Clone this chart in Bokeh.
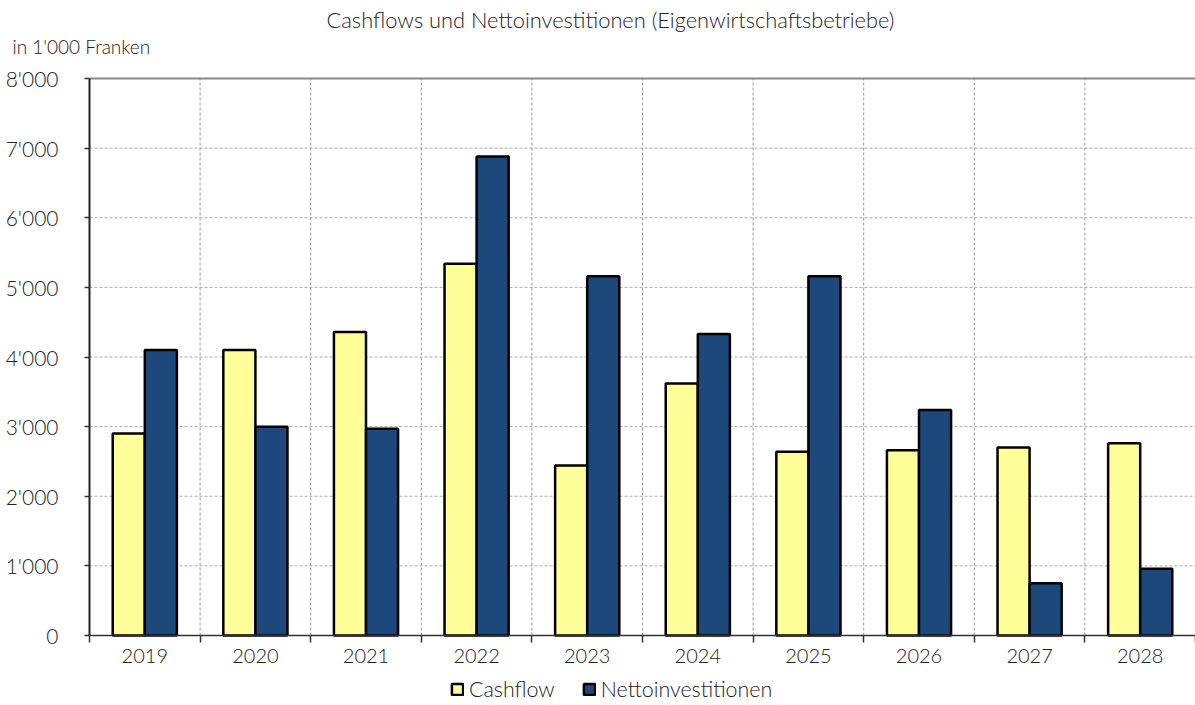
from bokeh.plotting import figure
from bokeh.models import (FixedTicker, Legend, LegendItem, ColumnDataSource, Range1d, Label)
from bokeh.transform import dodge
from bokeh.embed import file_html
from bokeh.resources import INLINE

years = ["2019", "2020", "2021", "2022", "2023", "2024", "2025", "2026", "2027", "2028"]
cashflow = [2900, 4100, 4360, 5340, 2440, 3620, 2640, 2660, 2700, 2760]
netto = [4100, 3000, 2970, 6880, 5160, 4330, 5160, 3240, 750, 960]
y_ticks = [0, 1000, 2000, 3000, 4000, 5000, 6000, 7000, 8000]
y_tick_labels = ["0", "1'000", "2'000", "3'000", "4'000", "5'000", "6'000", "7'000", "8'000"]
title_text = "Cashflows und Nettoinvestitionen (Eigenwirtschaftsbetriebe)"
unit_text = "in 1'000 Franken"

FONT = "'Lato Light', Lato"
W, H = 1195, 705
# layout of the plotting area inside the canvas (pixels)
AX_LEFT, AX_TOP, AX_BOTTOM = 89, 78, 635

pos = list(range(1, len(years) + 1))
bounds = [p_ - 0.5 for p_ in pos] + [pos[-1] + 0.5]

px_per_x = (W - AX_LEFT) / (bounds[-1] - bounds[0])
px_per_y = (AX_BOTTOM - AX_TOP) / (y_ticks[-1] - y_ticks[0])
x_start = bounds[0] - AX_LEFT / px_per_x
y_end = y_ticks[-1] + AX_TOP / px_per_y
y_start = y_ticks[0] - (H - AX_BOTTOM) / px_per_y

src = ColumnDataSource(dict(pos=pos, cashflow=cashflow, netto=netto))

p = figure(width=W, height=H, output_backend="svg", toolbar_location=None,
           x_range=Range1d(x_start, bounds[-1]), y_range=Range1d(y_start, y_end),
           min_border_left=0, min_border_right=0, min_border_top=0, min_border_bottom=0)
p.outline_line_color = None
p.background_fill_color = "white"
p.xgrid.visible = False
p.ygrid.visible = False

# grid lines (restricted to the value area)
hg = y_ticks[1:-1]
p.segment(x0=[bounds[0]] * len(hg), x1=[bounds[-1]] * len(hg), y0=hg, y1=hg,
          line_color="#AAAAAA", line_width=1, line_dash="3 2")
vg = bounds[1:-1]
p.segment(x0=vg, x1=vg, y0=[y_ticks[0]] * len(vg), y1=[y_ticks[-1]] * len(vg),
          line_color="#999999", line_width=1, line_dash="3 2")
p.segment(x0=[bounds[0]], x1=[bounds[-1]], y0=[y_ticks[-1]], y1=[y_ticks[-1]],
          line_color="#888888", line_width=2)

r1 = p.vbar(x=dodge("pos", -0.145, range=p.x_range), top="cashflow", width=0.29, source=src,
            fill_color="#FFFF99", line_color="black", line_width=2.5)
r2 = p.vbar(x=dodge("pos", 0.145, range=p.x_range), top="netto", width=0.29, source=src,
            fill_color="#1C487C", line_color="black", line_width=2.5)

# axes drawn at fixed positions
xa = p.xaxis[0]
xa.fixed_location = y_ticks[0]
xa.bounds = (bounds[0], bounds[-1])
xa.ticker = FixedTicker(ticks=pos, minor_ticks=bounds)
xa.major_label_overrides = {k: v for k, v in zip(pos, years)}
xa.major_tick_out = 0
xa.major_tick_in = 0
xa.minor_tick_out = 7
xa.minor_tick_in = 0
xa.minor_tick_line_color = "#333333"
xa.minor_tick_line_width = 1.5
xa.axis_line_color = "#333333"
xa.axis_line_width = 1.5
xa.major_label_text_font = FONT
xa.major_label_text_font_size = "20px"
xa.major_label_text_color = "#222222"
xa.major_label_standoff = 6

ya = p.yaxis[0]
ya.fixed_location = bounds[0]
ya.bounds = (y_ticks[0], y_ticks[-1])
ya.ticker = FixedTicker(ticks=y_ticks)
ya.major_label_overrides = {k: v for k, v in zip(y_ticks, y_tick_labels)}
ya.major_tick_out = 5
ya.major_tick_in = 0
ya.major_tick_line_color = "#333333"
ya.major_tick_line_width = 1.5
ya.axis_line_color = "#222222"
ya.axis_line_width = 2
ya.major_label_text_font = FONT
ya.major_label_text_font_size = "21px"
ya.major_label_text_color = "#222222"
ya.major_label_standoff = 26

# titles
p.add_layout(Label(text=title_text, x=610, y=19, x_units="canvas", y_units="canvas",
                   text_baseline="middle", text_align="center",
                   text_font=FONT, text_font_size="21.8px", text_color="#222222"))
p.add_layout(Label(text=unit_text, x=12, y=46, x_units="canvas", y_units="canvas",
                   text_baseline="middle", text_align="left",
                   text_font=FONT, text_font_size="19px", text_color="#222222"))

legend = Legend(items=[LegendItem(label="Cashflow", renderers=[r1]),
                       LegendItem(label="Nettoinvestitionen", renderers=[r2])],
                orientation="horizontal", location=(450, 3),
                glyph_width=14, glyph_height=14, label_standoff=5, spacing=27,
                label_text_font=FONT, label_text_font_size="21.4px", label_text_color="#222222",
                border_line_alpha=0, background_fill_alpha=0, padding=0, margin=0)
p.add_layout(legend, "center")

open("out.html", "w").write(file_html(p, INLINE))
